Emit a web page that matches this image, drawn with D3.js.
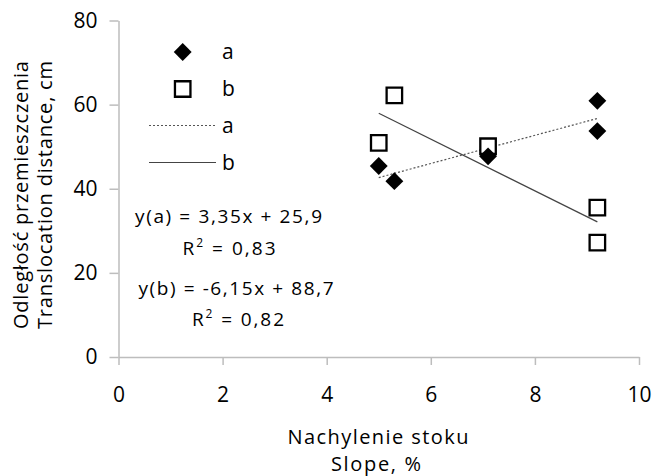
<!DOCTYPE html>
<html>
<head>
<meta charset="utf-8">
<script src="https://cdn.jsdelivr.net/npm/d3@7"></script>
<style>
  body { margin: 0; background: #fff; }
  text { font-family: "Open Sans", sans-serif; fill: #000; }
</style>
</head>
<body>
<div id="chart"></div>
<script>
    // Data
    const slopeA = [5.0, 5.3, 7.1, 9.2, 9.2];
    const distA = [45.4, 41.8, 47.7, 60.9, 53.7];
    const slopeB = [5.3, 5.0, 7.1, 9.2, 9.2];
    const distB = [62.2, 50.9, 50.1, 35.5, 27.2];

    // Trend line coefficients (slope, intercept) as printed
    const trendA = [3.35, 25.9];
    const trendB = [-6.15, 88.7];

    const xTicks = [0, 2, 4, 6, 8, 10];
    const yTicks = [0, 20, 40, 60, 80];

    const W = 653, H = 476;
    const margin = { top: 20.5, right: 14, bottom: 119, left: 118.5 };
    const width = W - margin.left - margin.right;
    const height = H - margin.top - margin.bottom;

    const svg = d3.select("#chart").append("svg")
        .attr("width", W)
        .attr("height", H)
        .append("g")
        .attr("transform", "translate(" + margin.left + "," + margin.top + ")");

    const x = d3.scaleLinear().domain([0, 10]).range([0, width]);
    const y = d3.scaleLinear().domain([0, 80]).range([height, 0]);

    // axes
    const xAxis = d3.axisBottom(x).tickValues(xTicks).tickSize(8).tickSizeOuter(0).tickPadding(22);
    const yAxis = d3.axisLeft(y).tickValues(yTicks).tickSize(9).tickSizeOuter(0).tickPadding(12);

    const gx = svg.append("g")
        .attr("transform", "translate(0," + height + ")")
        .call(xAxis);
    const gy = svg.append("g").call(yAxis);

    [gx, gy].forEach(g => {
        g.select(".domain").attr("stroke", "#bdbdbd").attr("stroke-width", 1.5);
        g.selectAll(".tick line").attr("stroke", "#bdbdbd").attr("stroke-width", 1.5);
        g.selectAll(".tick text")
            .style("font-family", '"Open Sans", sans-serif')
            .style("font-size", "21px")
            .attr("fill", "#000");
    });

    // trend lines over the span of the data
    const line = d3.line().x(d => x(d[0])).y(d => y(d[1]));
    function trendPts(xs, c) {
        const ext = d3.extent(xs);
        return ext.map(v => [v, c[0] * v + c[1]]);
    }

    svg.append("path")
        .datum(trendPts(slopeA, trendA))
        .attr("d", line)
        .attr("fill", "none")
        .attr("stroke", "#555")
        .attr("stroke-width", 1.2)
        .attr("stroke-dasharray", "2,2");

    svg.append("path")
        .datum(trendPts(slopeB, trendB))
        .attr("d", line)
        .attr("fill", "none")
        .attr("stroke", "#444")
        .attr("stroke-width", 1.2);

    // markers
    const squareSym = d3.symbol().type(d3.symbolSquare);
    const diamondPath = squareSym.size(160)();
    const boxPath = squareSym.size(240)();

    svg.selectAll(".ptB")
        .data(slopeB.map((v, i) => [v, distB[i]]))
        .join("path")
        .attr("class", "ptB")
        .attr("d", boxPath)
        .attr("transform", d => "translate(" + x(d[0]) + "," + y(d[1]) + ")")
        .attr("fill", "#fff")
        .attr("stroke", "#000")
        .attr("stroke-width", 2.3);

    svg.selectAll(".ptA")
        .data(slopeA.map((v, i) => [v, distA[i]]))
        .join("path")
        .attr("class", "ptA")
        .attr("d", diamondPath)
        .attr("transform", d => "translate(" + x(d[0]) + "," + y(d[1]) + ") rotate(45)")
        .attr("fill", "#000");

    // legend (page coordinates)
    const leg = d3.select("svg").append("g");
    leg.append("path").attr("d", diamondPath)
        .attr("transform", "translate(182.7,52) rotate(45)").attr("fill", "#000");
    leg.append("path").attr("d", boxPath)
        .attr("transform", "translate(182.7,89)")
        .attr("fill", "#fff").attr("stroke", "#000").attr("stroke-width", 2.3);
    leg.append("line").attr("x1", 149).attr("x2", 216).attr("y1", 125.5).attr("y2", 125.5)
        .attr("stroke", "#555").attr("stroke-width", 1.2).attr("stroke-dasharray", "2,2");
    leg.append("line").attr("x1", 149).attr("x2", 216).attr("y1", 162.5).attr("y2", 162.5)
        .attr("stroke", "#444").attr("stroke-width", 1.2);
    const legLabels = ["a", "b", "a", "b"];
    const legY = [52, 89, 126, 163];
    legLabels.forEach((t, i) => {
        leg.append("text").attr("x", 222).attr("y", legY[i]).attr("dy", "0.35em")
            .style("font-size", "21px").text(t);
    });

    // equations
    function eqText(cx, cy, len, parts) {
        const t = d3.select("svg").append("text")
            .attr("x", cx).attr("y", cy)
            .attr("text-anchor", "middle")
            .attr("textLength", len)
            .attr("lengthAdjust", "spacing")
            .style("font-size", "19px");
        parts.forEach(p => {
            const s = t.append("tspan").text(p.t);
            if (p.sup) s.attr("baseline-shift", "super").style("font-size", "12px");
        });
    }
    eqText(228.5, 223, 187, [{ t: "y(a) = 3,35x + 25,9" }]);
    eqText(229, 255, 93, [{ t: "R" }, { t: "2", sup: true }, { t: " = 0,83" }]);
    eqText(236, 295, 195, [{ t: "y(b) = -6,15x + 88,7" }]);
    eqText(238, 326, 92, [{ t: "R" }, { t: "2", sup: true }, { t: " = 0,82" }]);

    // y-axis title
    const yTitle = ["Odległość przemieszczenia", "Translocation distance, cm"];
    const yTitleX = [21, 45];
    yTitle.forEach((t, i) => {
        d3.select("svg").append("text")
            .attr("transform", "translate(" + yTitleX[i] + ",195) rotate(-90)")
            .attr("text-anchor", "middle")
            .attr("dy", "0.35em")
            .attr("textLength", 268)
            .attr("lengthAdjust", "spacing")
            .style("font-size", "20px")
            .text(t);
    });

    // x-axis title
    d3.select("svg").append("text")
        .attr("x", 378).attr("y", 437).attr("dy", "0.35em")
        .attr("text-anchor", "middle")
        .attr("textLength", 181).attr("lengthAdjust", "spacing")
        .style("font-size", "20px")
        .text("Nachylenie stoku");
    d3.select("svg").append("text")
        .attr("x", 376).attr("y", 464).attr("dy", "0.35em")
        .attr("text-anchor", "middle")
        .attr("textLength", 90).attr("lengthAdjust", "spacing")
        .style("font-size", "20px")
        .text("Slope, %");
</script>
</body>
</html>
